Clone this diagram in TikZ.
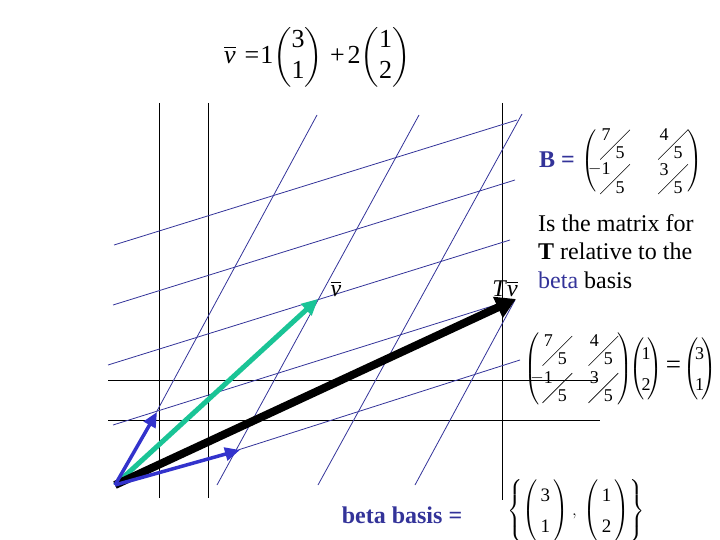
\documentclass[tikz,border=0pt]{standalone}
\usepackage{amsmath}
\usepackage{fontspec}
\setmainfont{Liberation Serif}
\usetikzlibrary{arrows.meta}
\definecolor{navy}{RGB}{51,51,153}
\definecolor{vecblue}{RGB}{51,51,204}
\definecolor{vecgreen}{RGB}{26,196,150}
% slashed fraction: numerator upper left, long slash, denominator lower right
\newcommand\sfr[2]{\raisebox{-8pt}{\setlength\unitlength{1pt}\begin{picture}(30,32)(0,-12)%
  \put(0,6){\makebox(14,14){#1}}\put(14,-12){\makebox(14,14){#2}}%
  \put(1,-12){\rotatebox{45}{\rule{42pt}{0.6pt}}}\end{picture}}}
\newcommand\cvec[2]{\left(\begin{tabular}{@{}c@{}}#1\\#2\end{tabular}\right)}
\newcommand\cvecn[2]{\left(\hspace{-3pt}\begin{tabular}{@{}c@{}}#1\\#2\end{tabular}\hspace{-3pt}\right)}
\newcommand\cvecp[2]{\left(\hspace{3pt}\begin{tabular}{@{}c@{}}#1\\#2\end{tabular}\hspace{3pt}\right)}
\newcommand\bmat[1]{\left(\hspace{2pt}\begin{tabular}{@{}c@{\hspace{#1}}c@{}}\sfr{7}{5} & \sfr{4}{5}\\[4pt] \sfr{\llap{\raisebox{1pt}{$-$}}1}{5} & \sfr{3}{5}\end{tabular}\right)}
\newcommand\bigsym[1]{{\fontsize{27}{30}\selectfont #1}}
\begin{document}
\begin{tikzpicture}[x=1pt,y=-1pt,
  gridline/.style={draw=navy, line width=0.8pt},
  axisline/.style={draw=black, line width=0.9pt},
  big/.style={font=\fontsize{24}{28.5}\selectfont, inner sep=0pt},
  mid/.style={font=\fontsize{18}{21.6}\selectfont, inner sep=0pt},
  blueeq/.style={inner sep=0pt, text=navy, font=\fontsize{24}{28}\selectfont\bfseries},
  bluevec/.style={draw=vecblue, line width=3.5pt, -{Triangle[length=15pt,width=13pt]}},
  greenvec/.style={draw=vecgreen, line width=5pt, -{Triangle[length=16pt,width=15pt]}},
  blackvec/.style={draw=black, line width=8pt, -{Triangle[length=20pt,width=22pt]}}]
\useasboundingbox (0,0) rectangle (720,540);
% black axis-like lines
\coordinate (va1) at (159,103); \coordinate (va2) at (159,498);
\coordinate (vb1) at (208,103); \coordinate (vb2) at (208,498);
\coordinate (vc1) at (502,103); \coordinate (vc2) at (502,500);
\coordinate (ha1) at (108,380); \coordinate (ha2) at (598,380);
\coordinate (hb1) at (108,420); \coordinate (hb2) at (600,420);
\draw[axisline] (va1) -- (va2);
\draw[axisline] (vb1) -- (vb2);
\draw[axisline] (vc1) -- (vc2);
\draw[axisline] (ha1) -- (ha2);
\draw[axisline] (hb1) -- (hb2);
% skew grid (beta basis)
\coordinate (q4a) at (114,245); \coordinate (q4b) at (517,120);
\coordinate (q3a) at (113,305); \coordinate (q3b) at (515,180);
\coordinate (q2a) at (108,365); \coordinate (q2b) at (510,240);
\coordinate (q1a) at (113,425); \coordinate (q1b) at (505,302);
\coordinate (q0a) at (238,450); \coordinate (q0b) at (520,360);
\coordinate (p0a) at (157,411); \coordinate (p0b) at (317,115);
\coordinate (p1a) at (217,485); \coordinate (p1b) at (419,115);
\coordinate (p2a) at (318,485); \coordinate (p2b) at (522,114);
\coordinate (p3a) at (415,485); \coordinate (p3b) at (515,300);
\foreach \a/\b in {q4a/q4b,q3a/q3b,q2a/q2b,q1a/q1b,q0a/q0b,p0a/p0b,p1a/p1b,p2a/p2b,p3a/p3b}
  \draw[gridline] (\a) -- (\b);
% vectors
\coordinate (O) at (115,485);
\coordinate (b1) at (240,450);
\coordinate (b2) at (157,412);
\coordinate (v) at (318,299);
\coordinate (Tv) at (516,299);
\draw[greenvec] (O) -- (v);
\draw[blackvec] (O) -- (Tv);
\draw[bluevec] (O) -- (b1);
\draw[bluevec] (O) -- (b2);
% labels
\node[big] (vlab) at (336,289) {$\overline{\textit{v}}$};
\node[big] (Tvlab) at (505,289) {\textit{T}$\overline{\textit{v}}$};
\node[big, font=\fontsize{26}{31}\selectfont, anchor=west] (topeq) at (224,57) {\renewcommand\arraystretch{1.0}$\overline{\textit{v}}$\hspace{9pt}=\hspace{1pt}1$\cvec{3}{1}$\hspace{7pt}+\hspace{3pt}2$\cvec{1}{2}$};
\node[blueeq] (Blab) at (557,160) {B =};
\node[mid] (Bmat) at (642,161) {$\bmat{28pt}$};
\node[big, anchor=north west, align=left] (txt) at (538,214) {Is the matrix for\\ \textbf{T} relative to the\\ \textcolor{navy}{beta} basis};
\node[mid, anchor=west] (eq2) at (524,369) {\renewcommand\arraystretch{1.4}$\bmat{16pt}\mkern-6mu\cvecn{1}{2}$\hspace{3pt}\bigsym{=}\hspace{2pt}$\cvecn{3}{1}$};
\node[blueeq] (betalab) at (402,515) {beta basis =};
\node[mid, font=\fontsize{19}{22.8}\selectfont] (basis) at (576,511) {\renewcommand\arraystretch{1.35}$\left\{\cvecp{3}{1}\hspace{1pt},\hspace{4pt}\cvecp{1}{2}\right\}$};
\end{tikzpicture}
\end{document}
